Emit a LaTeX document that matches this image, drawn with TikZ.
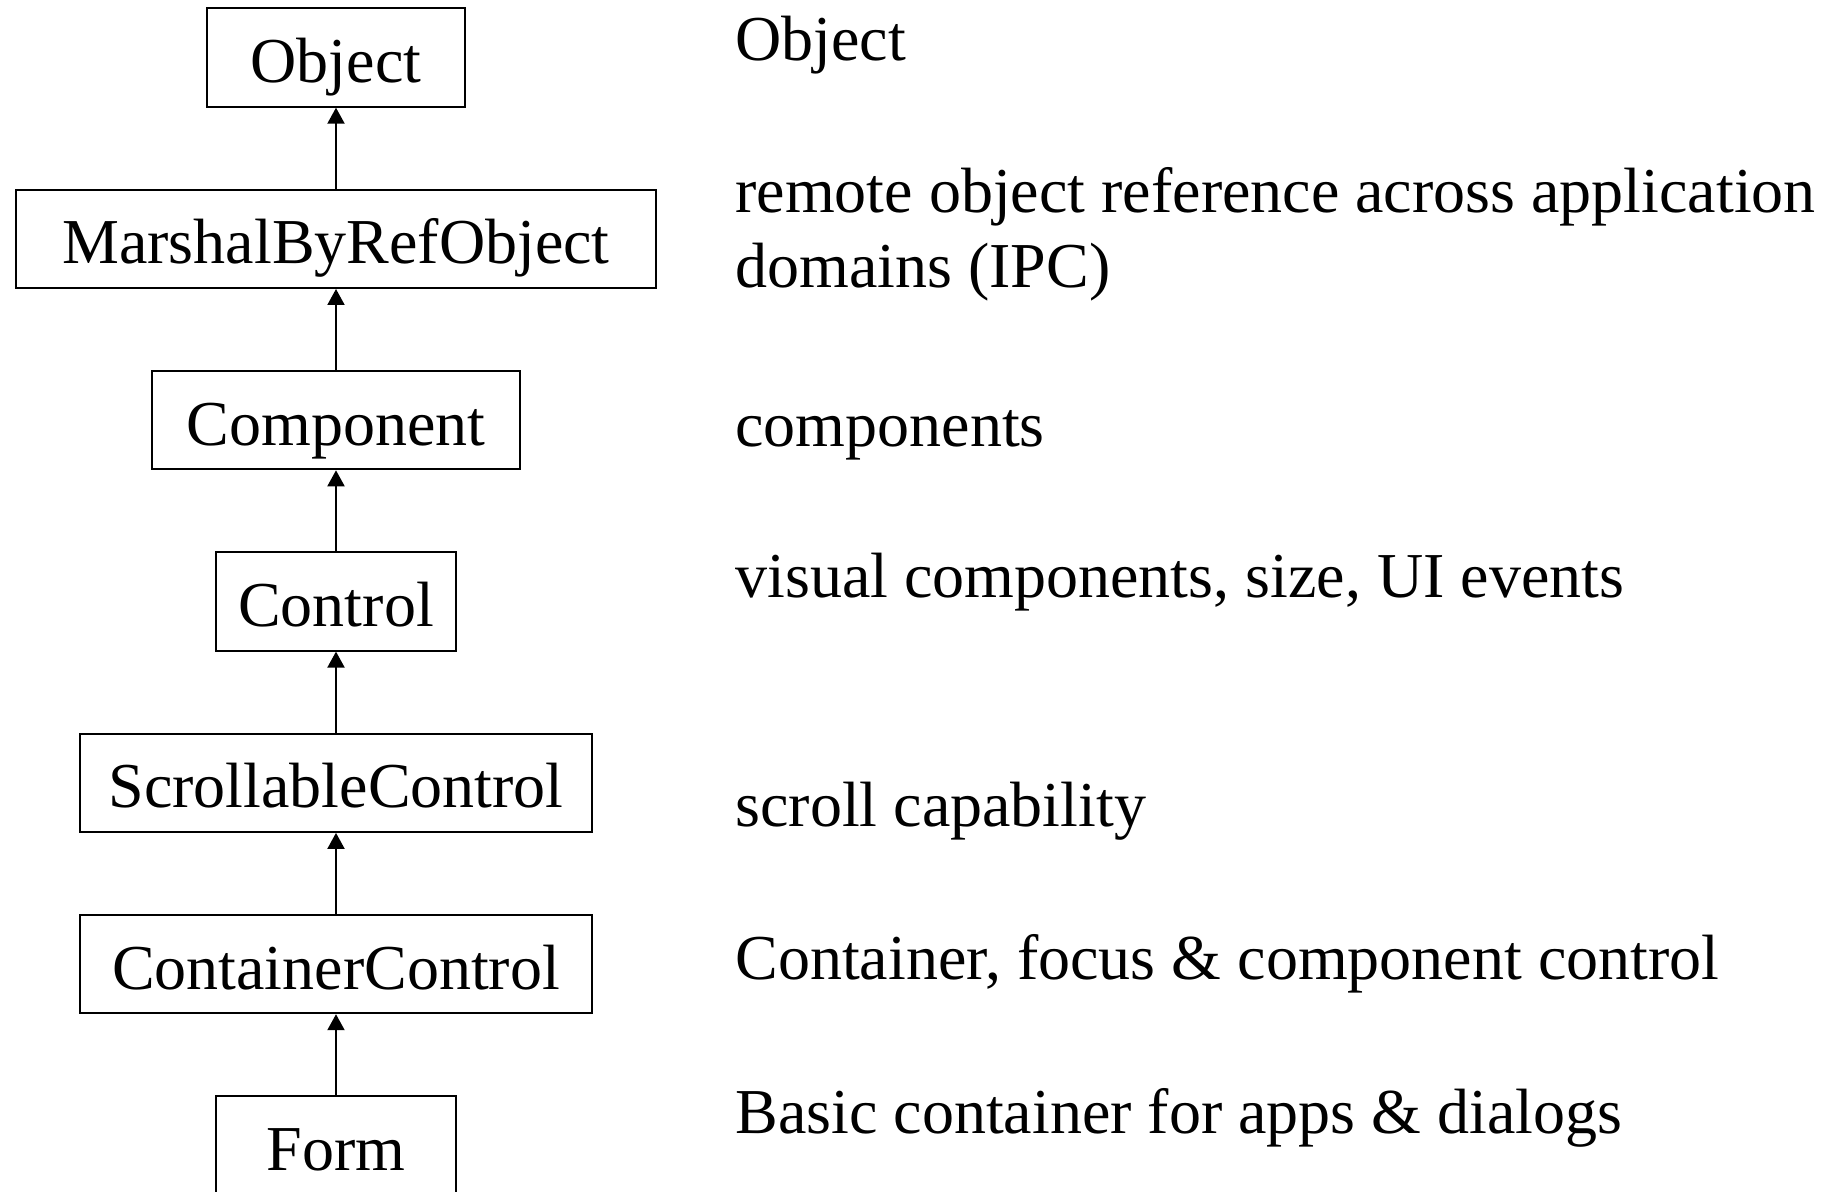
\documentclass[tikz,border=0pt]{standalone}
\usepackage{fontspec}
\setmainfont{Liberation Serif}
\usetikzlibrary{arrows.meta}
\begin{document}
\begin{tikzpicture}[x=0.5pt,y=-0.5pt,
  cls/.style={draw, line width=1pt, minimum height=49.2pt, inner sep=0pt,
              text height=25pt, text depth=0pt,
              font=\fontsize{32}{38}\selectfont},
  note/.style={anchor=base west, inner sep=0pt, align=left,
               font=\fontsize{32}{37.5}\selectfont},
  inherit/.style={-{Triangle[length=8pt,width=8.5pt]}, line width=1pt}]
\useasboundingbox (0,0) rectangle (1835,1192);

% class hierarchy
\node[cls, minimum width=129pt]   (object)    at (336,57.5)   {Object};
\node[cls, minimum width=320pt]   (mbr)       at (336,238.8)  {MarshalByRefObject};
\node[cls, minimum width=183.7pt] (component) at (336,420.1)  {Component};
\node[cls, minimum width=120pt]   (control)   at (336,601.4)  {Control};
\node[cls, minimum width=255.7pt] (scroll)    at (336,782.7)  {ScrollableControl};
\node[cls, minimum width=255.7pt] (container) at (336,964)    {ContainerControl};
\node[cls, minimum width=120pt]   (form)      at (336,1145.3) {Form};

% inheritance arrows
\draw[inherit] (mbr.north)       -- (object.south);
\draw[inherit] (component.north) -- (mbr.south);
\draw[inherit] (control.north)   -- (component.south);
\draw[inherit] (scroll.north)    -- (control.south);
\draw[inherit] (container.north) -- (scroll.south);
\draw[inherit] (form.north)      -- (container.south);

% descriptions (a multi-line node sits on the baseline of its last line)
\node[note] (d-object)    at (735,61)   {Object};
\node[note] (d-mbr)       at (735,288)  {remote object reference across application\\domains (IPC)};
\node[note] (d-component) at (735,446)  {components};
\node[note] (d-control)   at (735,597)  {visual components, size, UI events};
\node[note] (d-scroll)    at (735,826)  {scroll capability};
\node[note] (d-container) at (735,979)  {Container, focus \& component control};
\node[note] (d-form)      at (735,1133) {Basic container for apps \& dialogs};
\end{tikzpicture}
\end{document}
